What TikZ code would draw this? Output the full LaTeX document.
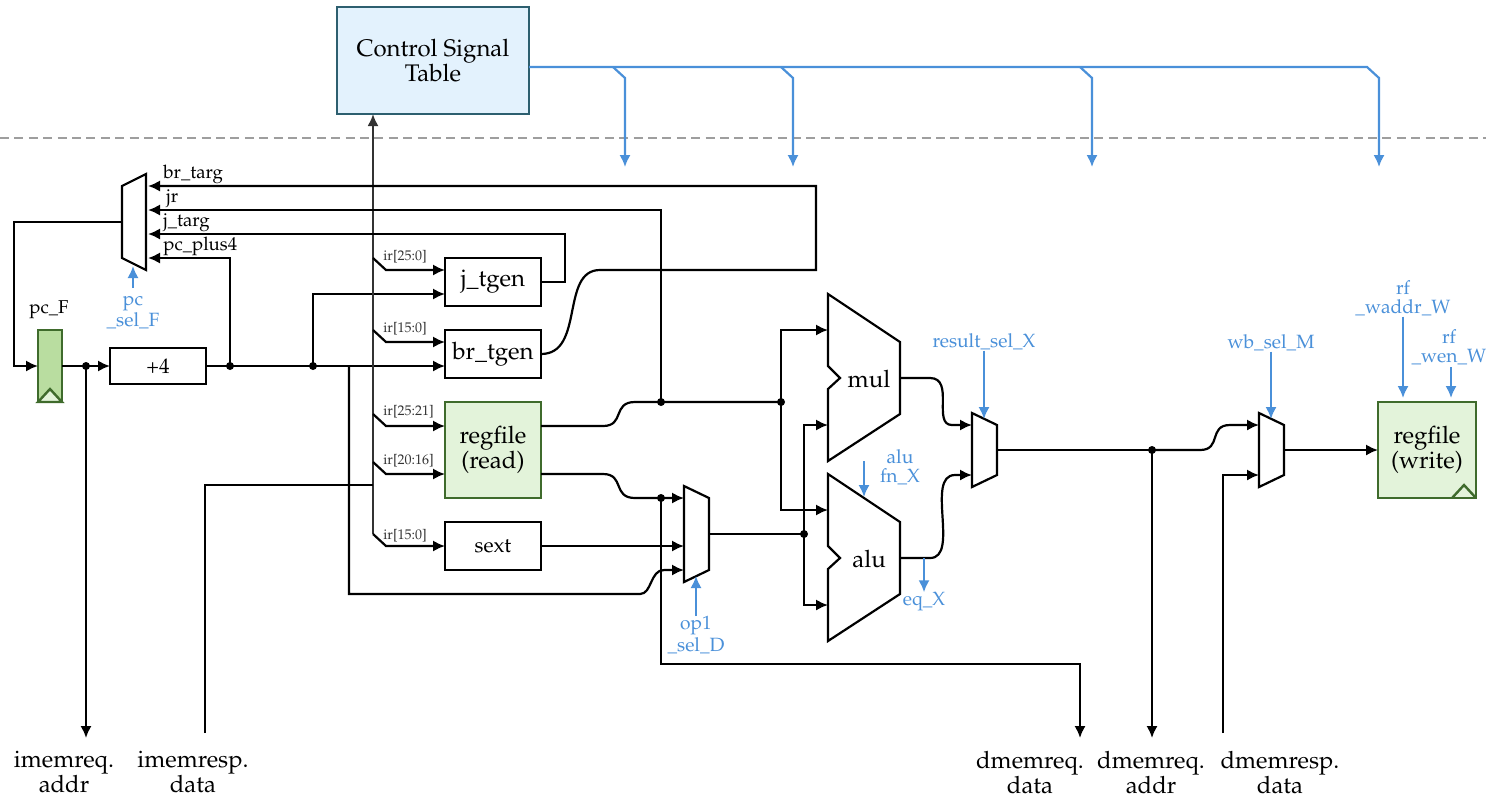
\documentclass[tikz,border=0pt]{standalone}
\usepackage[T1]{fontenc}
\usepackage{mathpazo}
\usepackage{tikz}
\usetikzlibrary{arrows.meta,shapes}
\definecolor{ctrlblue}{HTML}{4A90D9}
\definecolor{regdark}{HTML}{3F6B2C}
\definecolor{regfill}{HTML}{E3F3DA}
\definecolor{pcfill}{HTML}{B9DDA0}
\definecolor{tablefill}{HTML}{E3F2FD}
\definecolor{tabledark}{HTML}{2D5F6F}
\tikzset{
  >={Latex[length=6pt,width=5.6pt]},
  wire/.style={line width=1.1pt,black},
  irbus/.style={line width=1.4pt,black!80},
  ctrl/.style={line width=1.1pt,ctrlblue},
  dotnode/.style={circle,fill=black,inner sep=0,minimum size=4pt},
  unitbox/.style={draw,line width=1.2pt,fill=white,outer sep=0,inner sep=0,minimum width=48pt,align=center,font=\fontsize{12}{12.5}\selectfont},
  regbox/.style={unitbox,draw=regdark,fill=regfill},
  wlabel/.style={inner sep=0,anchor=west,font=\fontsize{9.3}{9.5}\selectfont},
  irlabel/.style={inner sep=0,anchor=west,text=black!80,font=\fontsize{7}{7}\selectfont},
  sellabel/.style={inner sep=0,align=center,text=ctrlblue,font=\fontsize{9.6}{9.5}\selectfont},
  pinlabel/.style={inner sep=0,align=center,font=\fontsize{11.9}{12.5}\selectfont}
}
% mux: name, left x, top y, height
\newcommand{\drawmux}[4]{
  \draw[wire,fill=white] (#2,#3) -- (#2+25,#3+12) -- (#2+25,#3+#4-12) -- (#2,#3+#4) -- cycle;
  \coordinate (#1-a) at (#2,#3+12);
  \coordinate (#1-b) at (#2,#3+#4-12);
  \coordinate (#1-out) at (#2+25,#3+#4/2);
  \coordinate (#1-sel) at (#2+12,#3+6);
  \coordinate (#1-bot) at (#2+12,#3+#4-6);
}
% arithmetic unit: name, top y
\newcommand{\drawalu}[2]{
  \draw[wire,fill=white] (828,#2) -- (900,#2+48) -- (900,#2+120) -- (828,#2+167)
    -- (828,#2+95) -- (840,#2+84) -- (828,#2+72) -- cycle;
  \coordinate (#1-a) at (828,#2+36);
  \coordinate (#1-b) at (828,#2+131);
  \coordinate (#1-out) at (900,#2+84);
}

\begin{document}
\begin{tikzpicture}[x=.5pt,y=-.5pt]
  \useasboundingbox (0,0) rectangle (1486,799);
  \draw[line width=1.2pt,black!38,dash pattern=on 4.5pt off 2.7pt] (0,138) -- (1486,138);

  \node[unitbox,draw=tabledark,fill=tablefill,minimum width=96pt,minimum height=53.5pt] (ctrltable) at (433,60.5) {Control Signal\\Table};

  % fetch
  \node[draw=regdark,line width=1.2pt,fill=pcfill,inner sep=0,outer sep=0,minimum width=12pt,minimum height=36pt] (pcreg) at (50,366) {};
  \draw[regdark,line width=1.2pt,fill=regfill] (pcreg.south west) -- (50,389) -- (pcreg.south east) -- cycle;
  \node[wlabel,anchor=center] (pclabel) at (49,310) {pc\_F};
  \node[unitbox,minimum width=48pt,minimum height=18pt] (plusfour) at (158,366) {\fontsize{10.5}{11}\selectfont +4};
  \draw[wire,fill=white] (122,186) -- (146,174) -- (146,270) -- (122,258) -- cycle;
  \coordinate (pcmux-out) at (122,222);
  \coordinate (pcmux-in) at (148,222);
  \node[wlabel] (lbltarg) at (163,174) {br\_targ};
  \node[wlabel] (lbljr) at (166,199) {jr};
  \node[wlabel] (lbljtarg) at (163,223) {j\_targ};
  \node[wlabel] (lblplus) at (163,246) {pc\_plus4};

  % decode
  \node[unitbox,minimum height=24pt] (jtgen) at (493,282) {j\_tgen};
  \node[unitbox,minimum height=24pt] (brtgen) at (493,354) {br\_tgen};
  \node[regbox,minimum height=48pt] (rfread) at (493,450) {regfile\\(read)};
  \node[unitbox,minimum height=24pt] (sext) at (493,546) {\fontsize{10.5}{12}\selectfont sext};
  \drawmux{opmux}{684}{486}{96}

  % execute
  \drawalu{mul}{294}
  \drawalu{alu}{474}
  \node[inner sep=0,font=\fontsize{12}{12}\selectfont] (mullabel) at (869,379) {mul};
  \node[inner sep=0,font=\fontsize{12}{12}\selectfont] (alulabel) at (869,559) {alu};
  \drawmux{resmux}{972}{413}{74}
  \drawmux{wbmux}{1259}{413}{74}
  \node[regbox,minimum width=49pt,minimum height=48pt] (rfwrite) at (1427,450) {regfile\\(write)};
  \draw[regdark,line width=1.2pt] (1452,498) -- (1464,485) -- (1476,498);

  % junctions
  \node[dotnode] (dotaddr) at (86,366) {};
  \node[dotnode] (dotplus) at (230,366) {};
  \node[dotnode] (dotj) at (313,366) {};
  \node[dotnode] (dotrs) at (661,402) {};
  \node[dotnode] (dotmul) at (781,402) {};
  \node[dotnode] (dotrt) at (661,498) {};
  \node[dotnode] (dotop) at (804,534) {};
  \node[dotnode] (dotres) at (1152,450) {};

  % pins
  \node[pinlabel] (imreqaddr) at (64,772) {imemreq.\\addr};
  \node[pinlabel] (imrespdata) at (193,772) {imemresp.\\data};
  \node[pinlabel] (dmreqdata) at (1030,772) {dmemreq.\\data};
  \node[pinlabel] (dmreqaddr) at (1151,772) {dmemreq.\\addr};
  \node[pinlabel] (dmrespdata) at (1280,772) {dmemresp.\\data};
  \coordinate (imreqend) at (86,738);
  \coordinate (imrespend) at (205,733);
  \coordinate (dmdataend) at (1080,738);
  \coordinate (dmaddrend) at (1152,738);
  \coordinate (dmrespend) at (1223,733);

  % fetch wires
  \draw[wire,->] (pcmux-out) -- (14,222) -- (14,366) -- (pcreg.west);
  \draw[wire,->] (pcreg.east) -- (plusfour.west);
  \draw[wire,->] (dotaddr.center) -- (imreqend);
  \draw[wire] (plusfour.east) -- (dotplus.center) -- (dotj.center);
  \draw[wire,->] (dotplus.center) -- (230,258) -- (148,258);
  \draw[wire,->] (dotj.center) -- (brtgen.west |- dotj);
  \draw[wire,->] (dotj.center) -- (313,294) -- (jtgen.west |- 0,294);
  \draw[wire,->] (349,366) -- (349,594) -- (640,594) .. controls (652,594) and (650,570) .. (664,570) -- (opmux-b);

  % instruction bus
  \draw[irbus,->] (373,534) -- (ctrltable.south -| 373,0);
  \foreach \ytop/\yport/\target in {258/270/jtgen,330/342/brtgen,414/426/rfread,462/474/rfread,534/546/sext}
    \draw[wire,->] (373,\ytop) -- (386,\yport) -- (\target.west |- 0,\yport);
  \node[irlabel] (irjt) at (383,257) {ir[25:0]};
  \node[irlabel] (irbr) at (383,329) {ir[15:0]};
  \node[irlabel] (irrs) at (383,412) {ir[25:21]};
  \node[irlabel] (irrt) at (383,461) {ir[20:16]};
  \node[irlabel] (irsx) at (383,536) {ir[15:0]};
  \draw[wire] (imrespend) -- (205,485) -- (373,485);

  % targets
  \draw[wire,->] (jtgen.east) -- (565,282) -- (565,234) -- (148,234);
  \draw[wire,->] (brtgen.east) .. controls (585,354) and (560,270) .. (600,270) -- (816,270) -- (816,186) -- (148,186);
  \draw[wire,->] (dotrs.center) -- (661,210) -- (148,210);

  % operands
  \draw[wire] (rfread.east |- 0,426) -- (603,426) .. controls (625,426) and (612,402) .. (635,402) -- (dotmul.center);
  \draw[wire,->] (rfread.east |- 0,474) -- (603,474) .. controls (625,474) and (612,498) .. (635,498) -- (opmux-a);
  \draw[wire,->] (sext.east) -- (opmux-a |- sext);
  \draw[wire,->] (dotrt.center) -- (661,664) -- (1080,664) -- (dmdataend);
  \draw[wire] (opmux-out) -- (dotop.center);
  \draw[wire,->] (dotmul.center) -- (781,330) -- (mul-a);
  \draw[wire,->] (dotmul.center) -- (781,510) -- (alu-a);
  \draw[wire,->] (dotop.center) -- (804,425) -- (mul-b);
  \draw[wire,->] (dotop.center) -- (804,605) -- (alu-b);

  % results
  \draw[wire,->] (mul-out) -- (930,378) .. controls (955,378) and (932,425) .. (952,425) -- (resmux-a);
  \draw[wire,->] (alu-out) -- (930,558) .. controls (960,558) and (925,475) .. (955,475) -- (resmux-b);
  \draw[wire] (resmux-out) -- (dotres.center);
  \draw[wire,->] (dotres.center) -- (dmaddrend);
  \draw[wire,->] (dotres.center) -- (1200,450) .. controls (1222,450) and (1208,425) .. (1230,425) -- (wbmux-a);
  \draw[wire,->] (dmrespend) -- (1223,475) -- (wbmux-b);
  \draw[wire,->] (wbmux-out) -- (rfwrite.west);

  % control lines
  \draw[ctrl,->] (ctrltable.east |- 0,67) -- (1367,67) -- (1379,78) -- (1379,167);
  \foreach \x in {625,793,1092}
    \draw[ctrl,->] (\x-12,67) -- (\x,78) -- (\x,167);
  \node[sellabel] (pcsel) at (133,312.5) {pc\\\_sel\_F};
  \node[sellabel] (opsel) at (696,635) {op1\\\_sel\_D};
  \node[sellabel] (ressel) at (984,342) {result\_sel\_X};
  \node[sellabel] (wbsel) at (1271,343) {wb\_sel\_M};
  \node[sellabel] (eqlabel) at (924,602) {eq\_X};
  \node[sellabel] (alufn) at (900,467) {alu\\fn\_X};
  \node[sellabel] (waddr) at (1403,298.5) {rf\\\_waddr\_W};
  \node[sellabel] (wen) at (1449,347.5) {rf\\\_wen\_W};
  \draw[ctrl,->] (133,288) -- (133,266);
  \draw[ctrl,->] (opsel.north -| opmux-sel) -- (opmux-bot);
  \draw[ctrl,->] (ressel.south) -- (984,419);
  \draw[ctrl,->] (wbsel.south) -- (1271,419);
  \draw[ctrl,->] (924,558) -- (eqlabel.north);
  \draw[ctrl,->] (864,461) -- (864,497);
  \draw[ctrl,->] (waddr.south) -- (1403,398);
  \draw[ctrl,->] (1451,367) -- (1451,398);
\end{tikzpicture}
\end{document}
